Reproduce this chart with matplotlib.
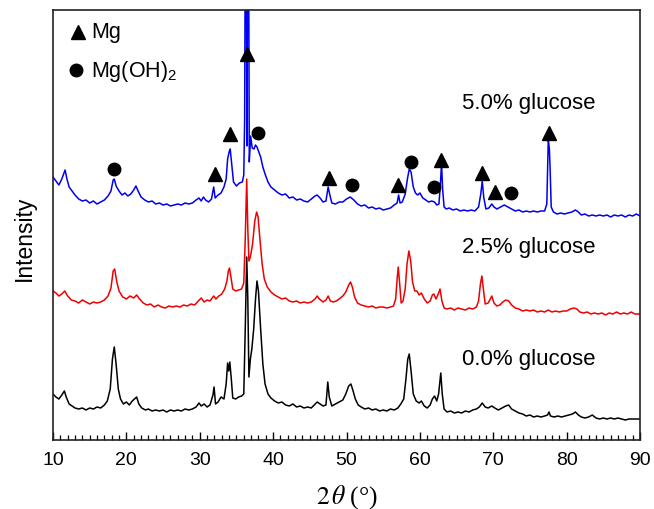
import numpy as np
import matplotlib
matplotlib.use("Agg")
import matplotlib.pyplot as plt
from matplotlib.ticker import MultipleLocator

plt.rcParams["font.family"] = ["Liberation Sans", "DejaVu Sans"]
plt.rcParams["mathtext.fontset"] = "stix"

# --------------------------------
# XRD patterns (2theta in deg, intensity in a.u.)
# --------------------------------
blue_x = [10.0, 10.4, 10.8, 11.2, 11.5, 11.65, 11.9, 12.2, 12.6, 13.0, 13.5, 14.0, 14.5, 15.0,
          15.5, 16.0, 16.5, 17.0, 17.5, 17.9, 18.2, 18.35, 18.6, 19.0, 19.4, 19.8, 20.2, 20.6,
          21.0, 21.3, 21.6, 22.0, 22.5, 23.0, 23.5, 24.0, 24.5, 25.0, 25.5, 26.0, 26.5, 27.0,
          27.5, 28.0, 28.5, 29.0, 29.5, 29.9, 30.2, 30.5, 30.8, 31.2, 31.6, 31.9, 32.1, 32.5,
          32.9, 33.3, 33.6, 33.8, 34.0, 34.15, 34.35, 34.6, 35.0, 35.4, 35.8, 36.0, 36.12, 36.26,
          36.43, 36.6, 36.75, 36.94, 37.15, 37.4, 37.6, 37.8, 38.0, 38.3, 38.6, 38.9, 39.3, 39.7,
          40.2, 40.7, 41.2, 41.7, 42.2, 42.7, 43.2, 43.7, 44.2, 44.7, 45.2, 45.7, 46.0, 46.4,
          46.8, 47.2, 47.5, 47.7, 48.0, 48.5, 49.0, 49.5, 50.0, 50.5, 51.0, 51.5, 52.0, 52.5,
          53.0, 53.5, 54.0, 54.5, 55.0, 55.5, 56.0, 56.5, 56.9, 57.1, 57.3, 57.6, 58.0, 58.3,
          58.55, 58.8, 59.1, 59.4, 59.7, 60.0, 60.4, 60.8, 61.2, 61.6, 62.0, 62.3, 62.6, 62.8,
          62.95, 63.1, 63.3, 63.6, 64.0, 64.5, 65.0, 65.5, 66.0, 66.5, 67.0, 67.5, 68.0, 68.3,
          68.5, 68.7, 69.0, 69.4, 69.8, 70.1, 70.5, 71.0, 71.5, 72.0, 72.5, 73.0, 73.5, 74.0,
          74.5, 75.0, 75.5, 76.0, 76.5, 77.0, 77.3, 77.5, 77.65, 77.75, 77.9, 78.2, 78.7, 79.2,
          79.7, 80.2, 80.7, 81.2, 81.6, 82.0, 82.5, 83.0, 83.5, 84.0, 84.5, 85.0, 85.5, 86.0,
          86.5, 87.0, 87.5, 88.0, 88.5, 89.0, 89.5, 90.0]
blue_y = [263, 259, 255, 261, 267, 270, 261, 253, 249, 245, 241, 239, 240, 237,
          239, 236, 238, 240, 244, 249, 260, 261, 254, 249, 245, 247, 244, 246,
          250, 254, 249, 243, 240, 238, 239, 236, 237, 235, 236, 234, 235, 236,
          235, 237, 236, 237, 240, 242, 239, 243, 240, 238, 241, 253, 242, 245,
          247, 253, 261, 281, 288, 291, 276, 258, 254, 257, 258, 265, 321, 641,
          294, 641, 278, 304, 292, 291, 295, 293, 289, 283, 273, 266, 258, 253,
          250, 247, 245, 246, 242, 243, 240, 241, 239, 238, 241, 244, 245, 242,
          238, 239, 253, 246, 237, 236, 238, 238, 241, 243, 240, 236, 234, 235,
          232, 233, 231, 232, 230, 231, 232, 235, 237, 245, 237, 238, 246, 261,
          271, 268, 253, 247, 245, 247, 242, 240, 238, 239, 238, 235, 236, 256,
          277, 251, 233, 231, 232, 230, 231, 229, 230, 229, 230, 229, 233, 246,
          259, 243, 231, 232, 236, 233, 231, 233, 235, 233, 231, 229, 230, 228,
          229, 228, 229, 228, 229, 229, 236, 301, 291, 271, 233, 228, 226, 227,
          226, 227, 228, 230, 228, 225, 226, 224, 225, 224, 225, 224, 225, 223,
          225, 224, 225, 223, 225, 224, 226, 224]

red_x = [10.0, 10.4, 10.8, 11.2, 11.6, 12.0, 12.5, 13.0, 13.5, 14.0, 14.5, 15.0, 15.5, 16.0,
         16.5, 17.0, 17.5, 17.9, 18.2, 18.4, 18.7, 19.0, 19.5, 20.0, 20.5, 21.0, 21.4, 21.8,
         22.3, 22.8, 23.3, 23.8, 24.3, 24.8, 25.3, 25.8, 26.3, 26.8, 27.3, 27.8, 28.3, 28.8,
         29.3, 29.8, 30.2, 30.6, 31.0, 31.4, 31.9, 32.2, 32.6, 33.0, 33.4, 33.7, 33.9, 34.05,
         34.25, 34.5, 34.9, 35.3, 35.7, 36.0, 36.2, 36.4, 36.55, 36.7, 36.9, 37.2, 37.5, 37.75,
         37.95, 38.2, 38.5, 38.8, 39.2, 39.7, 40.2, 40.7, 41.2, 41.7, 42.2, 42.7, 43.2, 43.7,
         44.2, 44.7, 45.2, 45.7, 46.0, 46.3, 46.8, 47.2, 47.5, 47.8, 48.2, 48.6, 49.0, 49.5,
         49.9, 50.3, 50.55, 50.8, 51.1, 51.5, 52.0, 52.5, 53.0, 53.5, 54.0, 54.5, 55.0, 55.5,
         56.0, 56.4, 56.7, 56.9, 57.05, 57.25, 57.45, 57.7, 58.0, 58.25, 58.5, 58.75, 59.0, 59.3,
         59.6, 59.9, 60.2, 60.6, 61.0, 61.4, 61.7, 61.9, 62.2, 62.5, 62.75, 63.0, 63.3, 63.7,
         64.2, 64.7, 65.2, 65.7, 66.2, 66.7, 67.2, 67.7, 68.0, 68.25, 68.45, 68.65, 68.9, 69.3,
         69.6, 69.8, 70.1, 70.5, 70.9, 71.3, 71.7, 72.1, 72.5, 73.0, 73.5, 74.0, 74.5, 75.0,
         75.5, 76.0, 76.5, 77.0, 77.5, 78.0, 78.5, 79.0, 79.5, 80.0, 80.5, 81.0, 81.4, 81.8,
         82.3, 82.8, 83.3, 83.8, 84.3, 84.8, 85.3, 85.8, 86.3, 86.8, 87.3, 87.8, 88.3, 88.8,
         89.3, 90.0]
red_y = [149, 147, 144, 146, 149, 144, 140, 139, 137, 140, 138, 136, 138, 137,
         138, 140, 144, 152, 169, 171, 158, 149, 143, 141, 144, 142, 145, 141,
         137, 135, 136, 133, 135, 133, 132, 134, 133, 134, 133, 135, 134, 136,
         135, 139, 142, 138, 140, 139, 144, 141, 144, 146, 151, 159, 169, 172,
         163, 151, 149, 150, 151, 157, 201, 261, 211, 179, 183, 196, 219, 228,
         223, 201, 176, 161, 153, 148, 145, 143, 141, 142, 139, 138, 139, 137,
         138, 137, 138, 141, 144, 141, 138, 140, 144, 139, 138, 139, 141, 144,
         148, 155, 158, 153, 143, 137, 135, 134, 133, 134, 132, 133, 133, 132,
         133, 134, 141, 161, 173, 156, 137, 139, 151, 176, 189, 179, 158, 149,
         149, 145, 147, 141, 137, 139, 145, 146, 141, 146, 151, 139, 132, 131,
         132, 130, 132, 131, 130, 132, 131, 133, 139, 156, 164, 151, 136, 137,
         141, 144, 137, 134, 135, 138, 140, 139, 135, 132, 131, 129, 130, 129,
         130, 128, 129, 128, 130, 128, 129, 128, 129, 129, 131, 132, 131, 128,
         127, 128, 126, 127, 126, 127, 125, 127, 126, 128, 126, 127, 126, 128,
         126, 126]

black_x = [10.0, 10.4, 10.8, 11.2, 11.55, 11.8, 12.2, 12.6, 13.0, 13.5, 14.0, 14.5, 15.0, 15.5,
           16.0, 16.5, 17.0, 17.4, 17.8, 18.1, 18.35, 18.6, 18.9, 19.2, 19.6, 20.0, 20.4, 20.8,
           21.1, 21.4, 21.7, 22.1, 22.6, 23.0, 23.5, 24.0, 24.5, 25.0, 25.5, 26.0, 26.5, 27.0,
           27.5, 28.0, 28.5, 29.0, 29.5, 29.9, 30.2, 30.6, 31.0, 31.4, 31.8, 31.95, 32.15, 32.5,
           32.9, 33.3, 33.6, 33.8, 33.95, 34.1, 34.3, 34.5, 34.9, 35.3, 35.7, 36.0, 36.2, 36.4,
           36.55, 36.7, 36.9, 37.1, 37.35, 37.6, 37.8, 38.0, 38.3, 38.6, 38.9, 39.3, 39.7, 40.2,
           40.7, 41.2, 41.7, 42.2, 42.7, 43.2, 43.7, 44.2, 44.7, 45.2, 45.6, 46.0, 46.4, 46.8,
           47.2, 47.45, 47.65, 48.0, 48.5, 49.0, 49.5, 49.9, 50.3, 50.6, 50.9, 51.2, 51.6, 52.0,
           52.5, 53.0, 53.5, 54.0, 54.5, 55.0, 55.5, 56.0, 56.5, 57.0, 57.4, 57.8, 58.1, 58.35,
           58.55, 58.8, 59.1, 59.5, 59.9, 60.2, 60.6, 61.0, 61.4, 61.7, 62.0, 62.3, 62.55, 62.85,
           63.05, 63.3, 63.7, 64.2, 64.7, 65.2, 65.7, 66.2, 66.7, 67.2, 67.7, 68.1, 68.5, 68.9,
           69.3, 69.8, 70.2, 70.7, 71.2, 71.7, 72.1, 72.5, 73.0, 73.5, 74.0, 74.5, 75.0, 75.5,
           76.0, 76.5, 77.0, 77.4, 77.6, 77.8, 78.3, 78.8, 79.3, 79.8, 80.3, 80.8, 81.2, 81.6,
           82.0, 82.5, 83.0, 83.5, 84.0, 84.5, 85.0, 85.5, 86.0, 86.5, 87.0, 87.5, 88.0, 88.5,
           89.0, 90.0]
black_y = [46, 43, 41, 45, 49, 43, 36, 34, 32, 31, 32, 30, 32, 31,
           33, 32, 35, 39, 51, 81, 93, 76, 51, 41, 36, 38, 35, 39,
           41, 43, 36, 32, 30, 31, 29, 30, 29, 30, 28, 30, 29, 30,
           29, 31, 30, 31, 33, 37, 34, 36, 33, 35, 45, 53, 36, 38,
           43, 41, 56, 77, 69, 78, 61, 42, 41, 43, 44, 46, 111, 183,
           141, 63, 81, 91, 111, 141, 159, 149, 111, 76, 56, 46, 42, 39,
           37, 38, 35, 34, 36, 33, 34, 32, 33, 32, 35, 38, 36, 34,
           35, 58, 43, 34, 36, 38, 40, 46, 54, 56, 49, 41, 35, 33,
           31, 32, 30, 31, 29, 30, 29, 31, 30, 32, 36, 41, 61, 81,
           86, 69, 46, 39, 37, 39, 34, 32, 35, 41, 44, 39, 46, 67,
           46, 31, 28, 29, 27, 28, 27, 29, 28, 30, 31, 33, 37, 33,
           32, 34, 32, 30, 32, 34, 35, 31, 29, 27, 26, 24, 25, 23,
           24, 23, 24, 25, 28, 24, 23, 24, 23, 24, 25, 26, 28, 25,
           23, 22, 23, 25, 22, 21, 22, 21, 22, 21, 22, 21, 20, 21,
           21, 21]

# phase markers above the 5.0% pattern
mg_x = [32.1, 34.1, 36.4, 47.6, 57.0, 62.9, 68.5, 70.2, 77.6]
mg_y = [266, 306, 386, 262, 255, 280, 267, 248, 307]
mgoh_x = [18.3, 37.9, 50.7, 58.8, 61.9, 72.4]
mgoh_y = [271, 307, 255, 278, 253, 247]

labels = ["5.0% glucose", "2.5% glucose", "0.0% glucose"]
label_y = [337, 193, 81]

# --------------------------------
# Plot
# --------------------------------
fig = plt.figure(figsize=(6.54, 5.10), dpi=100)
ax = fig.add_axes([53 / 654, 69 / 510, 587 / 654, 430 / 510])

ax.plot(black_x, black_y, color="black", lw=1.1)
ax.plot(red_x, red_y, color="#ee0000", lw=1.1)
ax.plot(blue_x, blue_y, color="#0000ee", lw=1.1)

ax.plot(mg_x, mg_y, ls="none", marker="^", ms=10, color="black", zorder=5)
ax.plot(mgoh_x, mgoh_y, ls="none", marker="o", ms=9, color="black", zorder=5)

for lab, ly in zip(labels, label_y):
    ax.text(65.7, ly, lab, fontsize=16, ha="left", va="center")

# legend drawn by hand
ax.plot([0.043], [0.949], marker="^", ms=10, color="black", ls="none",
        transform=ax.transAxes)
ax.plot([0.040], [0.860], marker="o", ms=9, color="black", ls="none",
        transform=ax.transAxes)
ax.text(0.065, 0.949, "Mg", fontsize=15.5, ha="left", va="center",
        transform=ax.transAxes)
ax.text(0.065, 0.860, r"Mg(OH)$_\mathregular{2}$", fontsize=15.5, ha="left",
        va="center", transform=ax.transAxes)

ax.set_xlim(10, 90)
ax.set_ylim(0, 430)
ax.xaxis.set_major_locator(MultipleLocator(10))
ax.xaxis.set_minor_locator(MultipleLocator(1))
ax.tick_params(axis="x", which="major", direction="in", length=6, width=1,
               labelsize=14, pad=8)
ax.tick_params(axis="x", which="minor", direction="in", length=3.5, width=0.9)
ax.set_yticks([])
for sp in ax.spines.values():
    sp.set_linewidth(1.2)
    sp.set_color("#222222")

ax.set_xlabel(r"$2\,\theta$" + "\u2009(°)", fontsize=18.5,
              family="Liberation Serif", labelpad=10)
ax.set_ylabel("Intensity", fontsize=16.5)
ax.yaxis.set_label_coords(-0.029, 0.472)

plt.savefig("out.png", dpi=100)
plt.close()
